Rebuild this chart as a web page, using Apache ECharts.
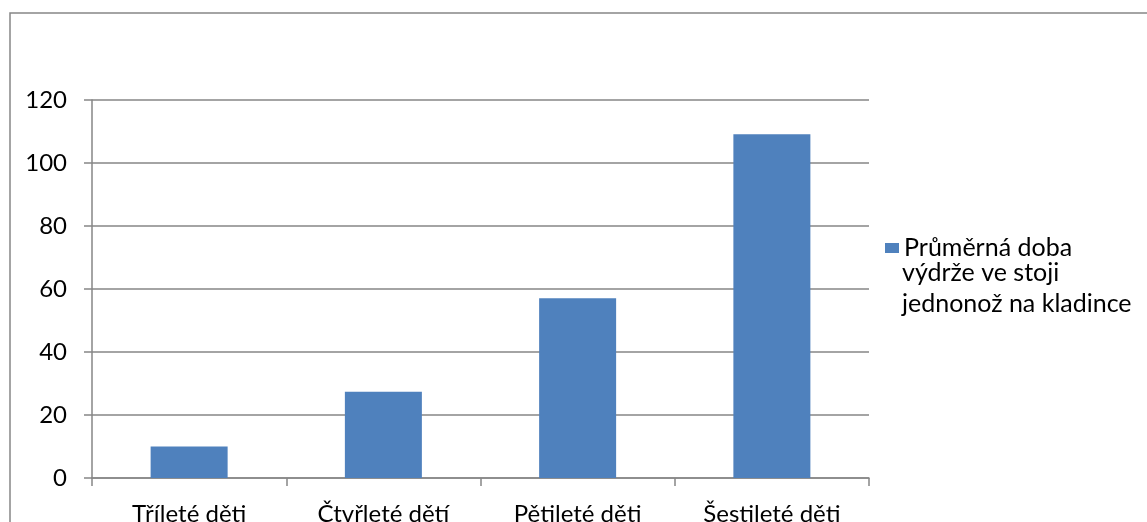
<!DOCTYPE html>
<html>
<head>
<meta charset="utf-8">
<script src="https://cdn.jsdelivr.net/npm/echarts@6/dist/echarts.min.js"></script>
<style>
  html, body { margin: 0; padding: 0; background: #fff; }
  #chart { width: 1147px; height: 522px; }
</style>
</head>
<body>
<div id="chart"></div>
<script>
// Average time standing on one leg on the balance beam, by age group
const categories = ['Tříleté děti', 'Čtvřleté dětí', 'Pětileté děti', 'Šestileté děti'];
const values = [10, 27.4, 57.1, 109.1];
const seriesLines = ['Průměrná doba', 'výdrže ve stoji', 'jednonož na kladince'];
const seriesName = seriesLines.join(' ');
const yTicks = { min: 0, max: 120, interval: 20 };

const gray = '#868686';
const font = 'Lato, "Noto Sans", sans-serif';
const legendFont = 25;
const legendLine = 31;
const legendMid = 243;      // vertical centre of the first legend line
const legendTextX = 902;

const chart = echarts.init(document.getElementById('chart'), null, { renderer: 'canvas' });
chart.setOption({
  backgroundColor: '#fff',
  animation: false,
  graphic: [{
    type: 'rect',
    shape: { x: 10, y: 13, width: 1150, height: 530 },
    style: { fill: 'none', stroke: gray, lineWidth: 1.5 },
    silent: true
  }, {
    // continuation lines of the legend entry, set under its first line
    type: 'text',
    x: legendTextX,
    y: legendMid + legendLine / 2 - 1,
    style: {
      text: seriesLines.slice(1).join('\n'),
      fontFamily: font,
      fontSize: legendFont,
      lineHeight: legendLine,
      align: 'left',
      verticalAlign: 'top',
      fill: '#000'
    },
    silent: true
  }],
  grid: { left: 92, right: 278, top: 100, bottom: 44, outerBoundsMode: 'none', containLabel: false },
  legend: {
    orient: 'vertical',
    left: 880,
    top: legendMid - legendLine / 2,
    itemWidth: 14,
    itemHeight: 10,
    itemGap: 0,
    icon: 'rect',
    formatter: () => seriesLines[0],
    textStyle: { fontFamily: font, fontSize: legendFont, color: '#000', lineHeight: legendLine },
    data: [seriesName]
  },
  xAxis: {
    type: 'category',
    data: categories,
    axisLine: { lineStyle: { color: gray, width: 1.5 } },
    axisTick: { show: true, length: 8, lineStyle: { color: gray, width: 1.5 } },
    axisLabel: { fontFamily: font, fontSize: 24, color: '#000', margin: 24 },
    splitLine: { show: false }
  },
  yAxis: {
    type: 'value',
    min: yTicks.min,
    max: yTicks.max,
    interval: yTicks.interval,
    axisLine: { show: true, lineStyle: { color: gray, width: 1.5 } },
    axisTick: { show: true, length: 8, lineStyle: { color: gray, width: 1.5 } },
    axisLabel: { fontFamily: font, fontSize: 24, color: '#000', margin: 25 },
    splitLine: { show: true, lineStyle: { color: gray, width: 1.5 } }
  },
  series: [{
    name: seriesName,
    type: 'bar',
    data: values,
    barWidth: 77,
    itemStyle: { color: '#4F81BD' }
  }]
});
</script>
</body>
</html>
